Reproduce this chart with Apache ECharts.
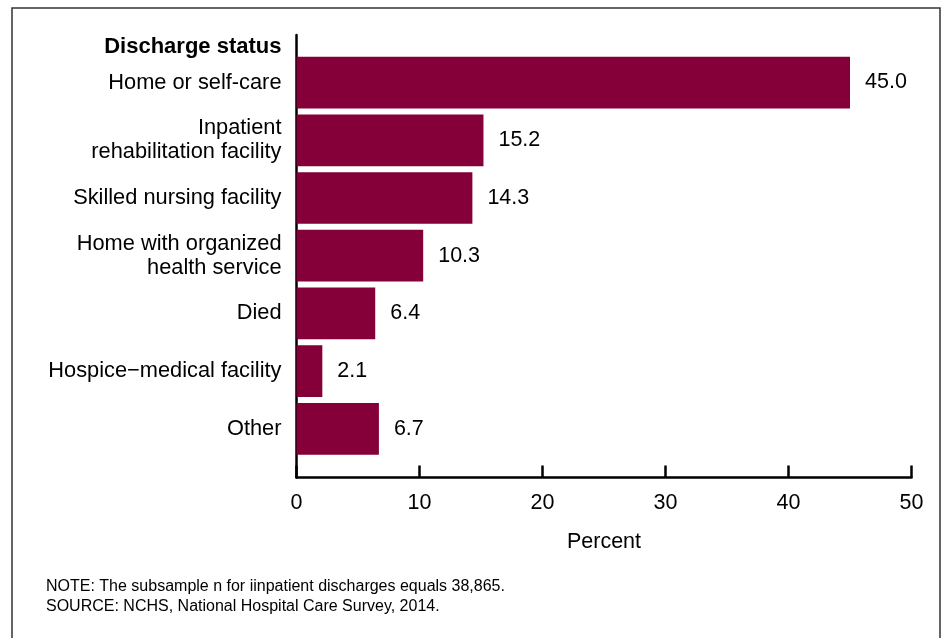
<!DOCTYPE html>
<html>
<head>
<meta charset="utf-8">
<script src="https://cdn.jsdelivr.net/npm/echarts@6/dist/echarts.min.js"></script>
<style>
  html, body { margin: 0; padding: 0; background: #fff; }
  #chart { width: 943px; height: 638px; }
</style>
</head>
<body>
<div id="chart"></div>
<script>
// discharge status categories, top to bottom
const categories = [
  'Home or self-care',
  'Inpatient\nrehabilitation facility',
  'Skilled nursing facility',
  'Home with organized\nhealth service',
  'Died',
  'Hospice\u2212medical facility',
  'Other'
];
const percents = [45.0, 15.2, 14.3, 10.3, 6.4, 2.1, 6.7];
const axisMin = 0;
const axisMax = 50;
const axisStep = 10;
const noteLines = [
  'NOTE: The subsample n for iinpatient discharges equals 38,865.',
  'SOURCE: NCHS, National Hospital Care Survey, 2014.'
];

const FONT = '"Liberation Sans", Arial, Helvetica, sans-serif';
const BAR = '#850038';

let chart = echarts.init(document.getElementById('chart'));

let option = {
  animation: false,
  textStyle: { fontFamily: FONT, color: '#000' },
  title: {
    text: noteLines.join('\n'),
    left: 46,
    top: 577,
    padding: 0,
    textStyle: { fontFamily: FONT, fontSize: 16, fontWeight: 'normal', color: '#000', lineHeight: 20 }
  },
  graphic: [{
    type: 'rect',
    shape: { x: 12, y: 8, width: 928, height: 660 },
    style: { fill: 'none', stroke: '#333', lineWidth: 1.5 },
    silent: true
  }],
  grid: [
    // bars
    { left: 296.5, right: 31.5, top: 53.7, bottom: 180.3, containLabel: false },
    // axis frame
    { left: 296.5, right: 31.5, top: 35, bottom: 160.5, containLabel: false }
  ],
  xAxis: [
    { gridIndex: 0, type: 'value', min: axisMin, max: axisMax, show: false },
    {
      gridIndex: 1, type: 'value', min: axisMin, max: axisMax, interval: axisStep,
      axisLine: { show: true, lineStyle: { color: '#000', width: 2.5 } },
      axisTick: { show: true, inside: true, length: 12, lineStyle: { color: '#000', width: 2.5 } },
      axisLabel: { fontSize: 21.5, color: '#000', margin: 15, fontFamily: FONT },
      splitLine: { show: false },
      name: 'Percent',
      nameLocation: 'middle',
      nameGap: 54,
      nameTextStyle: { fontSize: 21.5, color: '#000', fontFamily: FONT }
    }
  ],
  yAxis: [
    {
      gridIndex: 0, type: 'category', data: categories, inverse: true,
      axisLine: { show: false },
      axisTick: { show: false },
      axisLabel: { fontSize: 21.8, color: '#000', margin: 15, lineHeight: 24, fontFamily: FONT, padding: [3, 0, 0, 0] }
    },
    {
      gridIndex: 1, type: 'value', min: 0, max: 1,
      axisLine: { show: true, lineStyle: { color: '#000', width: 2.5 } },
      axisTick: { show: false },
      axisLabel: { show: false },
      splitLine: { show: false },
      name: 'Discharge status',
      nameLocation: 'end',
      nameGap: -12,
      nameTextStyle: {
        fontSize: 22, fontWeight: 'bold', color: '#000', fontFamily: FONT,
        align: 'right', verticalAlign: 'middle', padding: [0, 15, 0, 0]
      }
    }
  ],
  series: [{
    type: 'bar',
    xAxisIndex: 0,
    yAxisIndex: 0,
    data: percents,
    barCategoryGap: '10.4%',
    itemStyle: { color: BAR },
    label: {
      show: true,
      position: 'right',
      distance: 15,
      fontSize: 21.5,
      color: '#000',
      fontFamily: FONT,
      formatter: p => p.value.toFixed(1)
    }
  }]
};

chart.setOption(option);
</script>
</body>
</html>
